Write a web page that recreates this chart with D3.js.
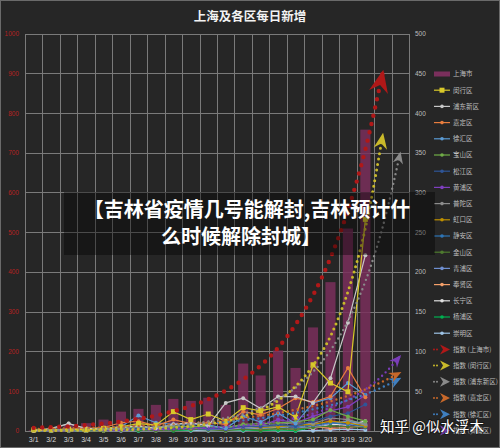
<!DOCTYPE html>
<head>
    <meta charset="utf-8">
    <style>
        body { margin: 0; background: #262626; }
        svg { display: block; font-family: "Noto Sans CJK SC", "Noto Sans", sans-serif; }
        .grid line { stroke: #7a7a7a; stroke-width: 1px; shape-rendering: crispEdges; }
        .trend { fill: none; stroke-linecap: round; }
        .dline { fill: none; stroke-width: 1.2px; }
    </style>
    <script src="https://d3js.org/d3.v7.min.js"></script>
</head>
<body>
    <script>
        // categories
        const dates = ["3/1","3/2","3/3","3/4","3/5","3/6","3/7","3/8","3/9","3/10",
                       "3/11","3/12","3/13","3/14","3/15","3/16","3/17","3/18","3/19","3/20"];
        const forecastSlots = ["3/21","3/22"];   // empty slots the trend lines run into

        // 上海市 (bars, left axis)
        const shanghai = [2,3,16,19,28,48,55,65,80,75,83,65,169,139,202,158,260,374,509,758];

        // districts (lines, right axis)
        const minhang  = [1,1,2,1,3,5,9,7,24,14,21,12,29,25,30,17,83,60,49,266];
        const pudong   = [0,3,9,3,2,4,6,3,8,10,6,35,41,28,43,43,35,66,136,221];
        const jiading  = [0,1,2,3,4,10,12,6,14,9,10,8,24,20,28,41,36,43,79,42];
        const xuhui    = [0,0,1,2,3,5,19,10,8,9,7,3,18,11,22,9,35,41,60,45];
        const baoshan  = [0,0,0,1,1,3,5,4,6,5,6,4,8,9,10,11,14,26,18,12];
        const songjiang= [0,0,1,0,1,2,3,4,3,5,4,2,6,5,8,6,12,18,22,33];
        const huangpu  = [0,0,0,1,1,2,3,2,3,4,3,2,5,6,14,10,18,25,30,45];
        const putuo    = [0,1,9,2,1,2,4,3,5,4,6,3,7,6,8,10,9,16,14,8];
        const hongkou  = [0,0,0,1,2,3,4,3,5,3,4,2,6,4,5,7,8,12,10,6];
        const jingan   = [0,0,0,0,1,2,2,3,4,3,2,3,5,4,6,5,7,10,8,5];
        const jinshan  = [0,0,0,0,0,1,1,0,1,2,1,0,2,1,3,2,4,6,5,4];
        const qingpu   = [0,0,0,0,1,1,2,1,2,3,2,1,3,2,4,3,5,9,12,7];
        const fengxian = [0,0,0,0,0,1,2,1,3,2,2,1,4,2,3,2,5,3,4,6];
        const changning= [0,0,0,0,1,1,2,3,2,3,4,2,3,5,4,6,3,8,7,12];
        const yangpu   = [0,0,0,0,0,1,0,2,0,1,3,1,1,0,1,0,4,6,13,9];
        const chongming= [0,0,0,0,0,0,0,0,1,0,0,0,0,1,0,0,0,1,2,1];

        // 指数 trend lines
        const trendShanghai = [7,9,11,14,18,23,30,38,49,62,79,101,129,164,209,267,341,435,555,708,903];
        const trendMinhang  = [0.2,0.3,0.4,0.6,0.9,1.3,1.8,2.7,3.9,5.7,8.4,12,18,26,38,56,82,119,175,255,373];
        const trendPudong   = [0.5,0.7,1,1.3,1.8,2.4,3.3,4.5,6.2,8.4,11.5,16,21,29,40,54,74,101,138,188,257,350];
        const trendJiading  = [2.1,2.5,2.9,3.4,4.1,4.8,5.7,6.8,8,9.5,11.3,13.4,16,19,22,26.5,31,37,44,52,62,73];
        const trendXuhui    = [1.5,1.8,2.2,2.6,3.1,3.7,4.4,5.3,6.4,7.6,9.1,11,13,15.7,19,22.5,27,32,38.5,46,55,66];
        const trendHuangpu  = [0.2,0.26,0.35,0.5,0.6,0.8,1.1,1.5,2,2.7,3.7,4.9,6.6,9,12,16,21.5,29,39,52,70,94];

        const leftTicks = d3.range(0, 1001, 100);
        const rightTicks = d3.range(0, 501, 50);

        const districts = [
            {name: "闵行区", values: minhang,   color: "#d9c92a", sym: "square"},
            {name: "浦东新区", values: pudong,   color: "#c8c8c8"},
            {name: "嘉定区", values: jiading,   color: "#e87d3e"},
            {name: "徐汇区", values: xuhui,     color: "#5b9bd5"},
            {name: "宝山区", values: baoshan,   color: "#70ad47"},
            {name: "松江区", values: songjiang, color: "#2f5597"},
            {name: "黄浦区", values: huangpu,   color: "#7f3fbf"},
            {name: "普陀区", values: putuo,     color: "#8c8c8c"},
            {name: "虹口区", values: hongkou,   color: "#bf9000"},
            {name: "静安区", values: jingan,    color: "#2e75b6"},
            {name: "金山区", values: jinshan,   color: "#4e7a2f"},
            {name: "青浦区", values: qingpu,    color: "#6f8fd0"},
            {name: "奉贤区", values: fengxian,  color: "#f4a06a"},
            {name: "长宁区", values: changning, color: "#e0e0e0"},
            {name: "杨浦区", values: yangpu,    color: "#00b050"},
            {name: "崇明区", values: chongming, color: "#9dc3e6"}
        ];

        const trends = [
            {name: "指数 (上海市)", values: trendShanghai, color: "#b01818", axis: "left",  w: 4.4, gap: 8.5, head: 24},
            {name: "指数 (闵行区)", values: trendMinhang,  color: "#c9b92a", axis: "right", w: 3,   gap: 5.5, head: 17},
            {name: "指数 (浦东新区)", values: trendPudong, color: "#8a8a8a", axis: "right", w: 2.4, gap: 5,   head: 13},
            {name: "指数 (嘉定区)", values: trendJiading,  color: "#c8682a", axis: "right", w: 2.4, gap: 5,   head: 13},
            {name: "指数 (徐汇区)", values: trendXuhui,    color: "#3f7fc0", axis: "right", w: 2.4, gap: 5,   head: 13},
            {name: "指数 (黄浦区)", values: trendHuangpu,  color: "#7a3db8", axis: "right", w: 2.4, gap: 5,   head: 13}
        ];

        const W = 500, H = 448;
        const plot = {left: 25, right: 409, top: 33.5, bottom: 430.7};

        const svg = d3.select("body").append("svg")
            .attr("width", W).attr("height", H);

        svg.append("rect").attr("x", 0.5).attr("y", 0.5)
            .attr("width", W - 1).attr("height", H - 1)
            .attr("fill", "#262626").attr("stroke", "#6a6a6a");

        const x = d3.scaleBand()
            .domain(dates.concat(forecastSlots))
            .range([plot.left, plot.right]);

        const yL = d3.scaleLinear().domain([0, 1000]).range([plot.bottom, plot.top]);
        const yR = d3.scaleLinear().domain([0, 500]).range([plot.bottom, plot.top]);
        const cx = d => x(d) + x.bandwidth() / 2;

        // grid
        const grid = svg.append("g").attr("class", "grid");
        grid.selectAll("line.h").data(leftTicks).join("line").attr("class", "h")
            .attr("x1", plot.left).attr("x2", plot.right)
            .attr("y1", d => Math.round(yL(d)) + 0.5).attr("y2", d => Math.round(yL(d)) + 0.5);
        const bounds = x.domain().map(d => x(d)).concat([plot.right]);
        grid.selectAll("line.v").data(bounds).join("line").attr("class", "v")
            .attr("x1", d => Math.round(d) + 0.5).attr("x2", d => Math.round(d) + 0.5)
            .attr("y1", plot.top).attr("y2", plot.bottom);

        // axes
        const axL = svg.append("g").attr("transform", `translate(${plot.left},0)`)
            .call(d3.axisLeft(yL).tickValues(leftTicks).tickFormat(d3.format("d")).tickSize(0).tickPadding(6));
        axL.select(".domain").remove();
        axL.selectAll("text").attr("fill", "#b42222").attr("font-size", 6.5);

        const axR = svg.append("g").attr("transform", `translate(${plot.right},0)`)
            .call(d3.axisRight(yR).tickValues(rightTicks).tickSize(0).tickPadding(6));
        axR.select(".domain").remove();
        axR.selectAll("text").attr("fill", "#bdbdbd").attr("font-size", 6.5);

        const axB = svg.append("g").attr("transform", `translate(0,${plot.bottom})`)
            .call(d3.axisBottom(x).tickValues(dates).tickSize(0).tickPadding(6));
        axB.select(".domain").remove();
        axB.selectAll("text").attr("fill", "#d9d9d9").attr("font-size", 7);

        // title
        svg.append("text").attr("x", 250).attr("y", 21).attr("text-anchor", "middle")
            .attr("fill", "#f2f2f2").attr("font-size", 12.5).attr("font-weight", "bold")
            .text("上海及各区每日新增");

        // bars
        const bw = x.bandwidth() * 0.58;
        svg.append("g").selectAll("rect").data(shanghai).join("rect")
            .attr("x", (d, i) => cx(dates[i]) - bw / 2)
            .attr("width", bw)
            .attr("y", d => yL(d))
            .attr("height", d => yL(0) - yL(d))
            .attr("fill", "#7a2f5c").attr("fill-opacity", 0.85);

        // district lines
        const line = d3.line().x((d, i) => cx(dates[i])).y(d => yR(d));
        const dl = svg.append("g");
        districts.slice().reverse().forEach(s => {
            const g = dl.append("g");
            g.append("path").attr("class", "dline").attr("stroke", s.color).attr("d", line(s.values));
            if (s.sym === "square") {
                g.selectAll("rect").data(s.values).join("rect")
                    .attr("x", (d, i) => cx(dates[i]) - 2.5).attr("y", d => yR(d) - 2.5)
                    .attr("width", 5).attr("height", 5).attr("fill", s.color);
            } else {
                g.selectAll("circle").data(s.values).join("circle")
                    .attr("cx", (d, i) => cx(dates[i])).attr("cy", d => yR(d))
                    .attr("r", 2).attr("fill", s.color);
            }
        });

        // trend lines with arrow heads
        const defs = svg.append("defs");
        const slots = x.domain();
        trends.forEach((t, k) => {
            defs.append("marker").attr("id", "arrow" + k)
                .attr("viewBox", "-10 -10 20 20").attr("refX", 8).attr("refY", 0)
                .attr("markerUnits", "userSpaceOnUse")
                .attr("markerWidth", t.head).attr("markerHeight", t.head)
                .attr("orient", "auto")
                .append("path").attr("d", "M10,0 L-9,-8 L-3,0 L-9,8 Z").attr("fill", t.color);
        });
        const tg = svg.append("g");
        trends.slice().reverse().forEach(t => {
            const k = trends.indexOf(t);
            const yy = t.axis === "left" ? yL : yR;
            const tl = d3.line().curve(d3.curveMonotoneX)
                .x((d, i) => cx(slots[i])).y(d => yy(d));
            tg.append("path").attr("class", "trend")
                .attr("stroke", t.color).attr("stroke-width", t.w)
                .attr("stroke-dasharray", `0 ${t.gap}`)
                .attr("marker-end", `url(#arrow${k})`)
                .attr("d", tl(t.values));
        });

        // legend
        const legendItems = [{name: "上海市", kind: "bar", color: "#7a2f5c"}]
            .concat(districts.map(d => ({name: d.name, kind: "line", color: d.color, sym: d.sym})))
            .concat(trends.map((t, k) => ({name: t.name, kind: "trend", color: t.color, k})));
        const lg = svg.append("g");
        legendItems.forEach((d, i) => {
            const g = lg.append("g").attr("transform", `translate(434,${74 + i * 16.2})`);
            if (d.kind === "bar") {
                g.append("rect").attr("x", 0).attr("y", -2.5).attr("width", 16).attr("height", 5).attr("fill", d.color);
            } else if (d.kind === "line") {
                g.append("line").attr("x1", 0).attr("x2", 16).attr("stroke", d.color).attr("stroke-width", 1.2);
                if (d.sym === "square") {
                    g.append("rect").attr("x", 5.5).attr("y", -2.5).attr("width", 5).attr("height", 5).attr("fill", d.color);
                } else {
                    g.append("circle").attr("cx", 8).attr("r", 1.8).attr("fill", d.color);
                }
            } else {
                g.append("line").attr("x1", 0).attr("x2", 6).attr("stroke", d.color)
                    .attr("stroke-width", 2).attr("stroke-linecap", "round").attr("stroke-dasharray", "0 3");
                g.append("path").attr("d", "M16,0 L6,-5 L9,0 L6,5 Z").attr("fill", d.color);
            }
            g.append("text").attr("x", 19).attr("y", 2.3)
                .attr("fill", "#bfbfbf").attr("font-size", 6.5).text(d.name);
        });

        // banner overlay
        svg.append("rect").attr("x", 64).attr("y", 192).attr("width", 371).attr("height", 63)
            .attr("fill", "#000").attr("fill-opacity", 0.38);
        const banner = svg.append("text").attr("text-anchor", "middle")
            .attr("fill", "#ffffff").attr("font-size", 20).attr("font-weight", "bold");
        banner.append("tspan").attr("x", 247).attr("y", 217).text("【吉林省疫情几号能解封,吉林预计什");
        banner.append("tspan").attr("x", 241).attr("y", 244).text("么时候解除封城】");

        // watermark
        svg.append("text").attr("x", 380).attr("y", 432)
            .attr("fill", "#ffffff").attr("font-size", 14.5)
            .style("paint-order", "stroke").attr("stroke", "rgba(0,0,0,0.35)").attr("stroke-width", 2)
            .text("知乎 @似水浮木");
    </script>
</body>
